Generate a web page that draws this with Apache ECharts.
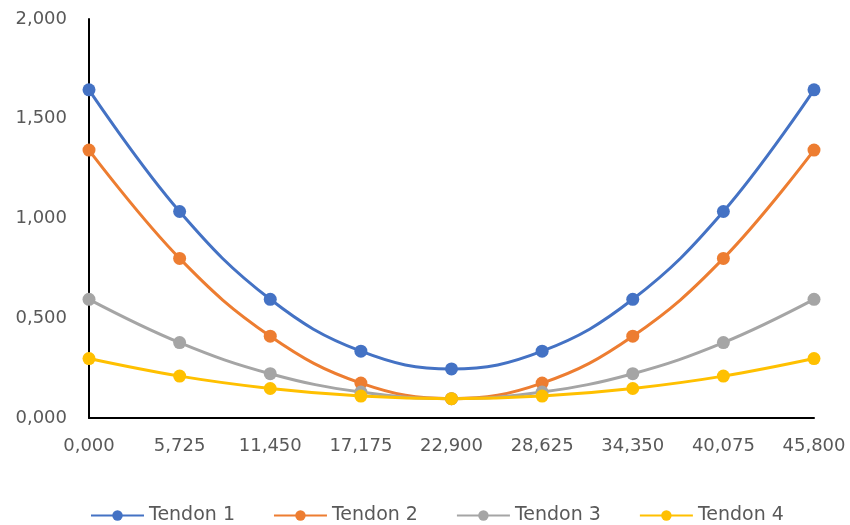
<!DOCTYPE html>
<html><head><meta charset="utf-8">
<script src="https://cdn.jsdelivr.net/npm/echarts@6/dist/echarts.min.js"></script>
<style>html,body{margin:0;padding:0;background:#fff}#c{width:850px;height:525px}</style>
</head><body><div id="c"></div>
<script>
const categories = ['0,000','5,725','11,450','17,175','22,900','28,625','34,350','40,075','45,800'];
const tendon1 = [1.645, 1.035, 0.595, 0.335, 0.246, 0.335, 0.595, 1.035, 1.645];
const tendon2 = [1.343, 0.800, 0.410, 0.175, 0.097, 0.175, 0.410, 0.800, 1.343];
const tendon3 = [0.595, 0.378, 0.222, 0.130, 0.097, 0.130, 0.222, 0.378, 0.595];
const tendon4 = [0.298, 0.210, 0.148, 0.110, 0.097, 0.110, 0.148, 0.210, 0.298];
const seriesNames = ['Tendon 1','Tendon 2','Tendon 3','Tendon 4'];
const colors = ['#4472C4','#ED7D31','#A5A5A5','#FFC000'];
const allData = [tendon1, tendon2, tendon3, tendon4];
const font = 'DejaVu Sans';
const chart = echarts.init(document.getElementById('c'));
chart.setOption({
  animation: false,
  color: colors,
  grid: {left: 89, right: 36, top: 19, bottom: 107, containLabel: false},
  xAxis: {
    type: 'category', data: categories, boundaryGap: false,
    axisLine: {lineStyle: {color: '#000', width: 2}},
    axisTick: {show: false},
    axisLabel: {color: '#595959', fontSize: 18, fontFamily: font, margin: 19}
  },
  yAxis: {
    type: 'value', min: 0, max: 2, interval: 0.5,
    axisLine: {show: true, lineStyle: {color: '#000', width: 2}},
    axisTick: {show: false},
    splitLine: {show: false},
    axisLabel: {color: '#595959', fontSize: 18, fontFamily: font, margin: 22,
      formatter: v => v.toFixed(3).replace('.', ',')}
  },
  legend: {
    top: 506, left: 90, padding: 0, itemWidth: 53, itemHeight: 13, itemGap: 38,
    textStyle: {color: '#595959', fontSize: 19, fontFamily: font},
    data: seriesNames
  },
  series: allData.map((d, i) => ({
    name: seriesNames[i], type: 'line', data: d, smooth: 0.4,
    symbol: 'circle', symbolSize: 13,
    lineStyle: {width: 3}, itemStyle: {color: colors[i]}
  }))
});
</script></body></html>
